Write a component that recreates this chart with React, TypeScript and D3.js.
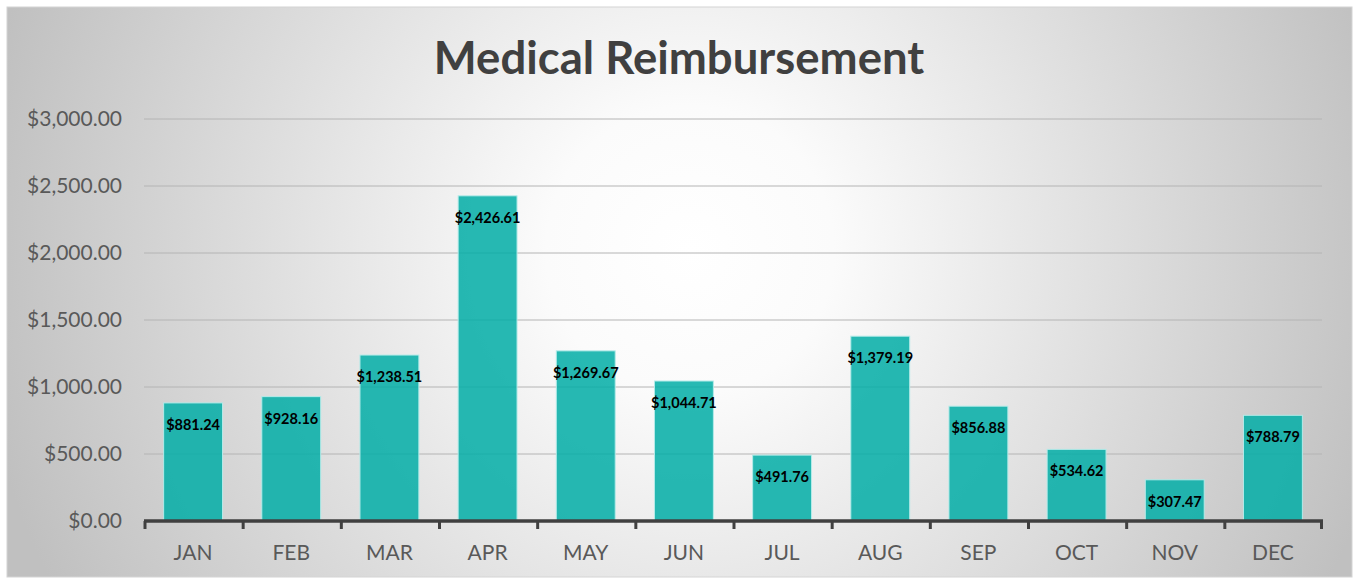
import { scaleBand, scaleLinear, format } from 'd3';

const width = 1354;
const height = 578;
const margin = { top: 119, right: 32, bottom: 57, left: 144 };

const months = ['JAN', 'FEB', 'MAR', 'APR', 'MAY', 'JUN', 'JUL', 'AUG', 'SEP', 'OCT', 'NOV', 'DEC'];
const amounts = [881.24, 928.16, 1238.51, 2426.61, 1269.67, 1044.71, 491.76, 1379.19, 856.88, 534.62, 307.47, 788.79];
const yTicks = [0, 500, 1000, 1500, 2000, 2500, 3000];
const title = 'Medical Reimbursement';

const money = format('$,.2f');
const font = 'Lato, "Open Sans", sans-serif';

const App = () => {
	const innerWidth = width - margin.left - margin.right;
	const innerHeight = height - margin.top - margin.bottom;

	const xScale = scaleBand<string>()
		.domain(months)
		.range([0, innerWidth])
		.paddingInner(0.4)
		.paddingOuter(0.2);

	const yScale = scaleLinear().domain([0, 3000]).range([innerHeight, 0]);

	const step = xScale.step();
	// tick marks sit on the boundaries between categories
	const boundaries = months.map((m, i) =>
		i === 0 ? 0 : (xScale(m) as number) - (step * xScale.paddingInner()) / 2,
	);
	boundaries.push(innerWidth);

	return (
		<svg
			width={width}
			height={height}
			style={{ position: 'absolute', left: 0, top: 0, fontFamily: font }}
		>
			<defs>
				<radialGradient id="bg" gradientUnits="userSpaceOnUse" cx={690} cy={250} r={720}>
					<stop offset="0" stopColor="#ffffff" />
					<stop offset="0.2" stopColor="#fbfbfb" />
					<stop offset="1" stopColor="#c0c0c0" />
				</radialGradient>
			</defs>
			<rect x={0} y={0} width={width} height={height} fill="#ffffff" />
			<rect x={7} y={7} width={1345} height={570} fill="url(#bg)" stroke="#d4d4d4" strokeWidth={1} />

			<text
				x={679}
				y={74}
				textAnchor="middle"
				fontSize={45.5}
				fontWeight="bold"
				fill="#404040"
			>
				{title}
			</text>

			<g transform={`translate(${margin.left},${margin.top})`}>
				{yTicks.map(t => (
					<g key={t} transform={`translate(0,${yScale(t)})`}>
						{t > 0 && <line x2={innerWidth} stroke="#b4b4b4" strokeWidth={1} />}
						<text
							x={-22}
							dy=".35em"
							textAnchor="end"
							fontSize={21}
							fill="#595959"
						>
							{money(t)}
						</text>
					</g>
				))}

				{months.map((m, i) => {
					const v = amounts[i];
					const x = xScale(m) as number;
					const y = yScale(v);
					return (
						<g key={m}>
							<rect
								x={x}
								y={y}
								width={xScale.bandwidth()}
								height={innerHeight - y}
								fill="#03ada7"
								fillOpacity={0.86}
								stroke="#b5ebe9"
								strokeWidth={1}
							/>
							<text
								x={x + xScale.bandwidth() / 2}
								y={y + 27}
								textAnchor="middle"
								fontSize={14.5}
								fontWeight="bold"
								fill="#000000"
							>
								{money(v)}
							</text>
							<text
								x={x + xScale.bandwidth() / 2}
								y={innerHeight + 39}
								textAnchor="middle"
								fontSize={21}
								fill="#595959"
							>
								{m}
							</text>
						</g>
					);
				})}

				<line x1={0} x2={innerWidth + 1} y1={innerHeight} y2={innerHeight} stroke="#404040" strokeWidth={3.5} />
				{boundaries.map((bx, i) => (
					<line
						key={`t${i}`}
						x1={i === boundaries.length - 1 ? bx - 0.5 : bx + 1}
						x2={i === boundaries.length - 1 ? bx - 0.5 : bx + 1}
						y1={innerHeight}
						y2={innerHeight + 8}
						stroke="#404040"
						strokeWidth={3}
					/>
				))}
			</g>
		</svg>
	);
};

export default App;
